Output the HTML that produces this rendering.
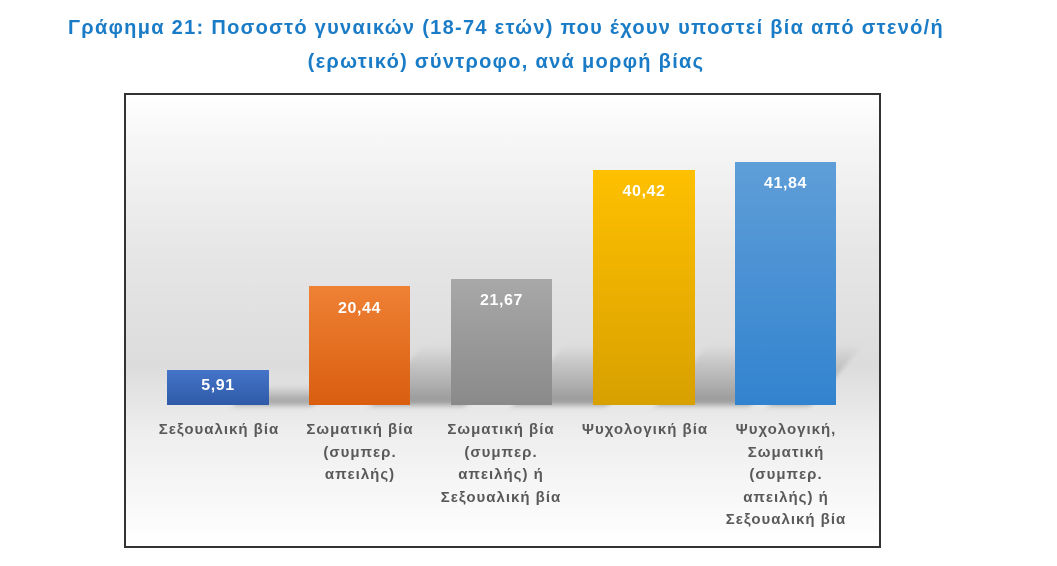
<!DOCTYPE html>
<html><head><meta charset="utf-8"><style>
body{margin:0;width:1057px;height:566px;background:#fff;position:relative;overflow:hidden;font-family:"Liberation Sans","DejaVu Sans",sans-serif}
.t{position:absolute;left:0;width:1012px;text-align:center;color:#1a7cc6;font-weight:bold;font-size:20px;letter-spacing:1.3px;white-space:nowrap}
.box{position:absolute;left:124px;top:93px;width:753px;height:451px;border:2px solid #333;background:linear-gradient(#fff 0%,#f6f6f6 10%,#e6e6e6 35%,#dcdcdc 60%,#eeeeee 75%,#fff 100%)}
.bar{position:absolute;color:#fff;font-weight:bold;font-size:16px;letter-spacing:.6px;text-align:center}
.sh{position:absolute;height:60px;top:345px;background:linear-gradient(rgba(150,150,150,0),rgba(140,140,140,.9));transform:skewX(-40deg);transform-origin:bottom;filter:blur(3px)}
.lab{position:absolute;width:124px;text-align:center;color:#595959;font-weight:bold;font-size:15px;letter-spacing:1px;line-height:22.5px}
</style></head><body>
<div class="t" style="top:17px">Γράφημα 21: Ποσοστό γυναικών (18-74 ετών) που έχουν υποστεί βία από στενό/ή</div>
<div class="t" style="top:51px">(ερωτικό) σύντροφο, ανά μορφή βίας</div>
<div class="box"></div>
<div class="sh" style="left:235px;width:80px;top:385px;height:20px"></div>
<div class="sh" style="left:372px;width:95px"></div>
<div class="sh" style="left:514px;width:95px"></div>
<div class="sh" style="left:657px;width:95px"></div>
<div class="sh" style="left:770px;width:42px"></div>
<div class="bar" style="left:167px;top:370px;width:102px;height:35px;line-height:32px;background:linear-gradient(#4574c8,#2f5aa8)">5,91</div>
<div class="bar" style="left:309px;top:286px;width:101px;height:119px;line-height:46px;background:linear-gradient(#ef8135,#d95e10)">20,44</div>
<div class="bar" style="left:451px;top:279px;width:101px;height:126px;line-height:44px;background:linear-gradient(#a8a8a8,#8a8a8a)">21,67</div>
<div class="bar" style="left:593px;top:170px;width:102px;height:235px;line-height:44px;background:linear-gradient(#ffc000,#d8a000)">40,42</div>
<div class="bar" style="left:735px;top:162px;width:101px;height:243px;line-height:44px;background:linear-gradient(#5f9ed8,#3283cf)">41,84</div>
<div class="lab" style="left:156px;top:419px;width:126px">Σεξουαλική βία</div>
<div class="lab" style="left:298px;top:419px">Σωματική βία<br>(συμπερ.<br>απειλής)</div>
<div class="lab" style="left:439px;top:419px">Σωματική βία<br>(συμπερ.<br>απειλής) ή<br>Σεξουαλική βία</div>
<div class="lab" style="left:578px;top:419px;width:134px">Ψυχολογική βία</div>
<div class="lab" style="left:724px;top:419px">Ψυχολογική,<br>Σωματική<br>(συμπερ.<br>απειλής) ή<br>Σεξουαλική βία</div>
</body></html>
